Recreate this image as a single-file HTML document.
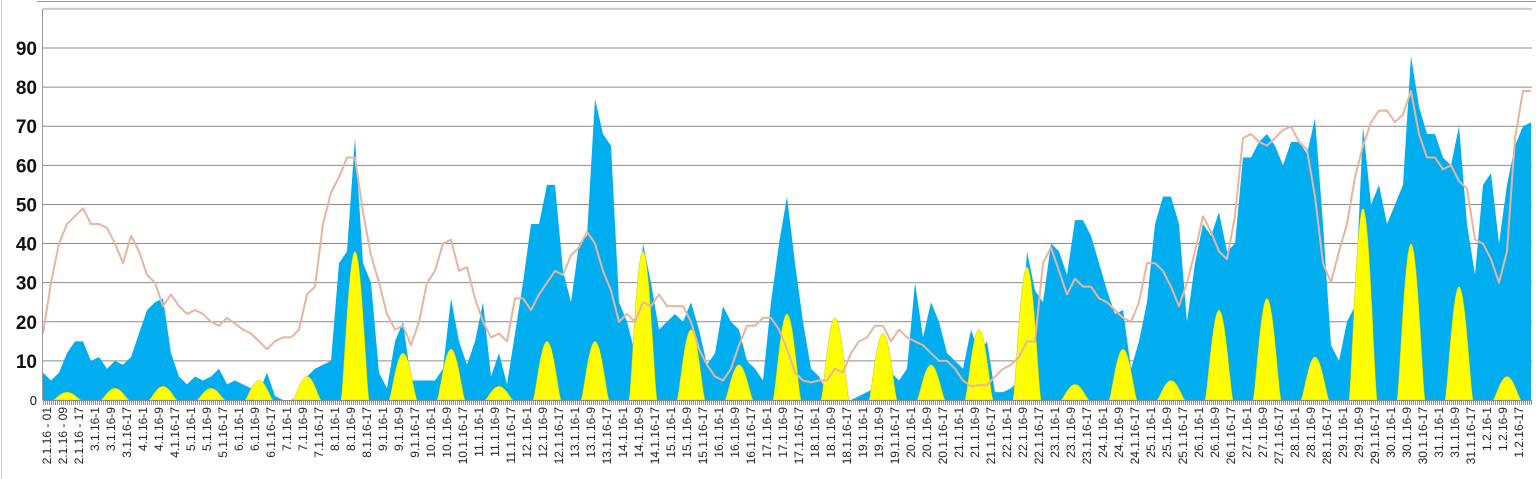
<!DOCTYPE html>
<html><head><meta charset="utf-8"><style>
html,body{margin:0;padding:0;background:#fff;}
svg{display:block;font-family:"Liberation Sans",sans-serif;}
</style></head><body>
<svg id="chart" width="1536" height="479" viewBox="0 0 1536 479">
<line x1="37" y1="1.5" x2="1536" y2="1.5" stroke="#999" stroke-width="1"/>
<line x1="1.5" y1="0" x2="1.5" y2="479" stroke="#ccc" stroke-width="1"/>
<g id="grid"></g>
<g id="ylabels"></g>
<g id="series"></g>
<g id="xaxis"></g>
<g id="xlabels"></g>
</svg>
<script>
const yTicks = [0,10,20,30,40,50,60,70,80,90,100];
const days = ["2.1","3.1","4.1","5.1","6.1","7.1","8.1","9.1","10.1","11.1","12.1","13.1","14.1","15.1","16.1","17.1","18.1","19.1","20.1","21.1","22.1","23.1","24.1","25.1","26.1","27.1","28.1","29.1","30.1","31.1","1.2"];
const hourTags = ["1","9","17"];
// blue area, 4-hour steps
const blueValues = [
7,5,7,12,15,15, 10,11,8,10,9,11, 17,23,25,26,12,6, 4,6,5,6,8,4, 5,4,3,2,7,1,
0,0,1,6,8,9, 10,35,38,67,35,30, 7,3,15,20,5,5, 5,5,8,26,15,9, 15,25,6,12,4,17,
30,45,45,55,55,33, 25,40,42,77,68,65, 25,20,12,40,30,18, 20,22,20,25,18,9, 12,24,20,18,10,8,
5,25,40,52,35,20, 8,6,2,0,0,0, 1,2,3,12,7,5, 8,30,16,25,20,12, 10,8,18,12,15,2,
2,3,5,38,28,25, 40,38,32,46,46,42, 35,28,22,23,8,15, 25,45,52,52,45,20, 35,45,42,48,38,40,
62,62,66,68,65,60, 66,66,63,72,45,14, 10,20,24,70,50,55, 45,50,55,88,75,68, 68,62,60,70,45,32,
55,58,40,55,65,70, 71];
// line, 4-hour steps
const lineValues = [
17,30,40,45,47,49,45,45,44,40,
35,42,38,32,30,24,27,24,22,23,
22,20,19,21,19.5,18,17,15,13,15,
16,16,18,27,29,45,53,57,62,62,
48,37,30,22,18,19,14,20,30,33,
40,41,33,34,26,20,16,17,15,26,
26,23,27,30,33,32,37,39,43,40,
33,28,20,22,20,25,24,27,24,24,
24,20,13,9,6,5,8,14,19,19,
21,21,18,13,7,5,4.5,5,5,8,
7,12,15,16,19,19,15,18,16,15,
14,12,10,10,8,5,3.5,3.8,3.8,6,
8,9,11,15,15,35,39,33,27,31,
29,29,26,25,23,21,20,25,35,35,
33,29,24,30,38,47,43,38,36,47,
67,68,66,65,67,69,70,66,64,52,
35,30,38,45,57,65,71,74,74,71,
73,79,68,62,62,59,60,56,54,41,
40,36,30,38,67,79,79];
// yellow daily peaks
const yellowPeaks = [2,3,3.5,3,5,6,38,12,13,3.5,15,15,38,18,9,22,21,17,9,18,34,4,13,5,23,26,11,49,40,29,6];

const NS="http://www.w3.org/2000/svg";
const X0=43, PXH=2, Y0=400, PXV=3.911;
const xH = h => X0 + h*PXH;
const yV = v => Y0 - v*PXV;
function mk(tag, attrs, parent){const e=document.createElementNS(NS,tag);for(const k in attrs)e.setAttribute(k,attrs[k]);parent.appendChild(e);return e;}

const grid=document.getElementById('grid'), yl=document.getElementById('ylabels');
yTicks.forEach(t=>{
  if(t>0){
    const l=mk('line',{x1:X0,x2:1532,y1:yV(t),y2:yV(t),stroke:t===100?'#c8c8c8':'#8c8c8c','stroke-width':t===100?2:1},grid);
    
    
  }
  if(t<100){
    const tx=mk('text',{x:37,y:yV(t)+(t===0?5:7),'text-anchor':'end','font-size':t===0?13:19,'font-weight':t===0?'normal':'bold',fill:'#111'},yl);
    tx.textContent=t;
    
    
  }
});

const series=document.getElementById('series');
// blue
let d='M'+xH(0)+','+Y0;
blueValues.forEach((v,i)=>{d+=' L'+xH(i*4)+','+yV(v);});
d+=' L'+xH((blueValues.length-1)*4)+','+Y0+' Z';
const blue=mk('path',{d:d,fill:'#00aeef'},series);


// yellow
yellowPeaks.forEach((p,i)=>{
  const c=i*24+12;
  let s='M'+xH(c-7)+','+Y0;
  for(let t=-7;t<=7;t+=0.5){const q=t/7;const f=Math.pow(Math.max(0,1-q*q),1.4);s+=' L'+xH(c+t)+','+yV(p*f);}
  s+=' Z';
  const y=mk('path',{d:s,fill:'#ffff00',stroke:'#c8c800','stroke-width':0.5},series);
  
  
});
// line
let ld='';
lineValues.forEach((v,i)=>{ld+=(i?' L':'M')+xH(i*4)+','+yV(v);});
const ln=mk('path',{d:ld,fill:'none',stroke:'#e8b4a0','stroke-width':2,'stroke-linejoin':'round'},series);



// x axis
const xa=document.getElementById('xaxis');
const ax=mk('line',{x1:X0,x2:1532,y1:Y0+0.5,y2:Y0+0.5,stroke:'#888','stroke-width':1},xa);


const vax=mk('line',{x1:X0-0.5,x2:X0-0.5,y1:9,y2:Y0,stroke:'#999','stroke-width':1},xa);


let td='';
for(let h=0;h<=days.length*24;h++){td+='M'+(xH(h)+0.5)+','+(Y0+1)+' V'+(Y0+5)+' ';}
const ticks=mk('path',{d:td,stroke:'#d08060','stroke-width':1},xa);



const xl=document.getElementById('xlabels');
days.forEach((dy,i)=>{
  hourTags.forEach((hg,j)=>{
    const idx=i*3+j;
    const cx=X0+4+idx*16;
    const label = i===0 ? dy+'.16 - '+(j===0?'01':j===1?'09':'17') : dy+'.16-'+hg;
    const t=mk('text',{x:0,y:0,'text-anchor':'end','font-size':12,fill:'#222',transform:'translate('+(cx+4)+',407) rotate(-90)'},xl);
    t.textContent=label;
    
    
  });
});
</script>
</body></html>
